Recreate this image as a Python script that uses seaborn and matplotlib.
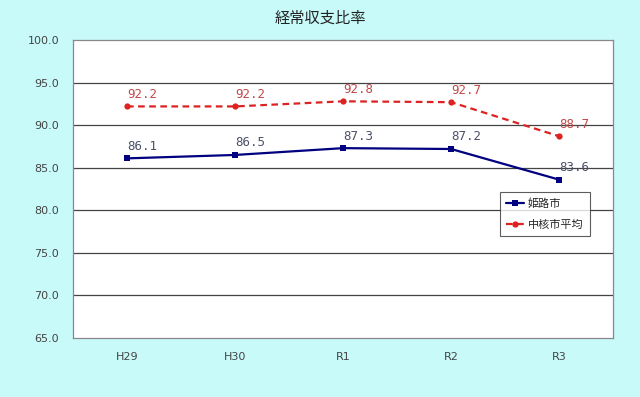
import numpy as np
import pandas as pd
import matplotlib
matplotlib.use("Agg")
import matplotlib.pyplot as plt
import seaborn as sns

# dati
anni = ["H29", "H30", "R1", "R2", "R3"]
himeji = [86.1, 86.5, 87.3, 87.2, 83.6]
chukaku = [92.2, 92.2, 92.8, 92.7, 88.7]
serie_nomi = ["姫路市", "中核市平均"]

sns.set_theme(style="white")
plt.rcParams["font.family"] = ["Noto Sans CJK JP", "DejaVu Sans"]

df = pd.DataFrame({
    "anno": anni * 2,
    "pos": list(range(len(anni))) * 2,
    "valore": himeji + chukaku,
    "serie": [serie_nomi[0]] * len(anni) + [serie_nomi[1]] * len(anni),
})

sfondo = "#C8FAFA"
fig = plt.figure(figsize=(6.4, 3.97), dpi=100, facecolor=sfondo)
ax = fig.add_axes([0.114, 0.1486, 0.844, 0.7506])
ax.set_facecolor("white")

stili = {
    serie_nomi[0]: dict(color="#000080", marker="s", linestyle="-", ms=5, lw=1.6),
    serie_nomi[1]: dict(color="#DD2222", marker="o", linestyle=(0, (3, 2)), ms=4.5, lw=1.6),
}
colori_etichette = {serie_nomi[0]: "#4A5068", serie_nomi[1]: "#C04848"}

for nome in serie_nomi:
    sub = df[df["serie"] == nome]
    st = stili[nome]
    sns.lineplot(data=sub, x="pos", y="valore", ax=ax, label=nome,
                 color=st["color"], marker=st["marker"], linestyle=st["linestyle"],
                 markersize=st["ms"], linewidth=st["lw"], markeredgewidth=0)
    for x, y in zip(sub["pos"], sub["valore"]):
        ax.annotate(f"{y:.1f}", (x, y), xytext=(0, 4), textcoords="offset points",
                    ha="left", va="bottom", fontsize=9, family="DejaVu Sans Mono",
                    color=colori_etichette[nome])

ax.set_xlim(-0.5, len(anni) - 0.5)
ax.set_ylim(65, 100)
ax.set_yticks(np.arange(65, 100.1, 5))
ax.set_yticklabels([f"{v:.1f}" for v in np.arange(65, 100.1, 5)], fontsize=8,
                   family="DejaVu Sans", color="#444444")
ax.set_xticks(range(len(anni)))
ax.set_xticklabels(anni, fontsize=8, family="DejaVu Sans", color="#444444")
ax.set_xticks(np.arange(0.5, len(anni) - 0.5, 1), minor=True)
ax.tick_params(axis="x", which="major", length=0, pad=10)
ax.tick_params(axis="x", which="minor", length=4, direction="in", color="#555555", width=0.8)
ax.tick_params(axis="y", length=0, pad=10)
for v in np.arange(70, 100, 5):
    ax.axhline(v, color="#444444", linewidth=0.9, zorder=0)
for s in ax.spines.values():
    s.set_color("#888888")
    s.set_linewidth(0.9)
ax.set_xlabel("")
ax.set_ylabel("")

fig.text(0.5, 0.955, "経常収支比率", ha="center", va="center", fontsize=11, color="#222222")

leg = ax.legend(loc="lower left", bbox_to_anchor=(0.79, 0.342), borderaxespad=0,
                fontsize=8, frameon=True, fancybox=False, edgecolor="#333333",
                handlelength=1.6, handletextpad=0.4, borderpad=0.55, labelspacing=1.0)
leg.get_frame().set_linewidth(0.8)

fig.savefig("out.png", dpi=100, facecolor=sfondo)
